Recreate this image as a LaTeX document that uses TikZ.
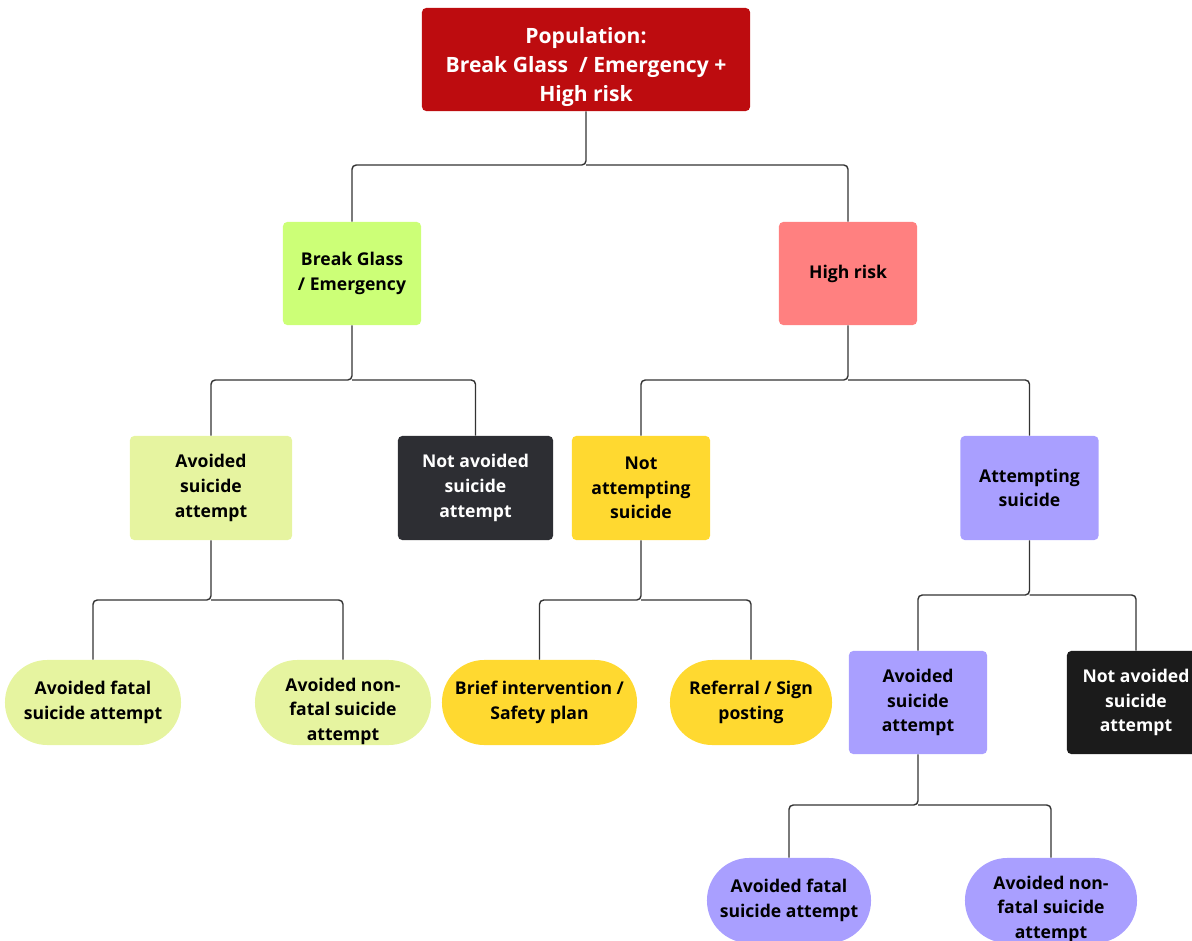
\documentclass[tikz,border=0pt]{standalone}
\usepackage{fontspec}
\setmainfont{Open Sans}
\definecolor{popred}{HTML}{BD0C0F}
\definecolor{glassgreen}{HTML}{CCFF77}
\definecolor{riskpink}{HTML}{FF8080}
\definecolor{palegreen}{HTML}{E6F4A0}
\definecolor{darkgrey}{HTML}{2D2E33}
\definecolor{sunyellow}{HTML}{FFD930}
\definecolor{lilac}{HTML}{A99FFF}
\definecolor{nearblack}{HTML}{1B1B1B}
\definecolor{linegrey}{HTML}{333333}

\begin{document}
\begin{tikzpicture}[x=0.025cm,y=-0.025cm,
		box/.style={rectangle,rounded corners=3pt,inner sep=0pt,align=center,
			minimum width=3.45cm,minimum height=2.575cm,
			font=\fontsize{12.5pt}{17.5pt}\selectfont\bfseries},
		pill/.style={rectangle,rounded corners=30pt,inner sep=0pt,align=center,
			minimum height=2.125cm,
			font=\fontsize{12.5pt}{17.5pt}\selectfont\bfseries},
		link/.style={draw=linegrey,line width=1pt,rounded corners=3pt}]
		\useasboundingbox (0,0) rectangle (1192,941);

		\draw (586,59.5) node [box,fill=popred,text=white,minimum width=8.2cm,
			font=\fontsize{15pt}{20.5pt}\selectfont\bfseries] (pop)
			{\rule{0pt}{22pt}Population:\\Break Glass~~/ Emergency +\\High risk};

		\draw (352,273.5) node [box,fill=glassgreen] (glass) {Break Glass\\/ Emergency};
		\draw (848,273.5) node [box,fill=riskpink] (risk) {High risk};

		\draw (211,488) node [box,fill=palegreen,minimum width=4.05cm,minimum height=2.6cm] (avoidA) {Avoided\\suicide\\attempt};
		\draw (475.5,488) node [box,fill=darkgrey,text=white,minimum width=3.875cm,minimum height=2.6cm] (notavoidA) {Not avoided\\suicide\\attempt};
		\draw (641,488) node [box,fill=sunyellow,minimum height=2.6cm] (notattempt) {Not\\attempting\\suicide};
		\draw (1029.5,488) node [box,fill=lilac,minimum height=2.6cm] (attempt) {Attempting\\suicide};

		\draw (93,702.5) node [pill,fill=palegreen,minimum width=4.4cm] (fatalA) {Avoided fatal\\suicide attempt};
		\draw (343,702.5) node [pill,fill=palegreen,minimum width=4.4cm] (nonfatalA) {\rule{0pt}{22pt}Avoided non-\\fatal suicide\\attempt};
		\draw (539.5,702.5) node [pill,fill=sunyellow,minimum width=4.875cm] (brief) {Brief intervention /\\Safety plan};
		\draw (751,702.5) node [pill,fill=sunyellow,minimum width=4.05cm] (referral) {Referral / Sign\\posting};
		\draw (918,702.5) node [box,fill=lilac] (avoidB) {Avoided\\suicide\\attempt};
		\draw (1136,702.5) node [box,fill=nearblack,text=white] (notavoidB) {Not avoided\\suicide\\attempt};

		\draw (789,900.5) node [pill,fill=lilac,minimum width=4.1cm] (fatalB) {Avoided fatal\\suicide attempt};
		\draw (1051,900.5) node [pill,fill=lilac,minimum width=4.3cm] (nonfatalB) {\rule{0pt}{22pt}Avoided non-\\fatal suicide\\attempt};

		\coordinate (j1) at (586,165);
		\coordinate (j2) at (352,380);
		\coordinate (j3) at (848,380);
		\coordinate (j4) at (211,600);
		\coordinate (j5) at (641,600);
		\coordinate (j6) at (1029.5,595);
		\coordinate (j7) at (918,805);

		\draw[link] (pop) -- (j1) -| (glass);
		\draw[link] (j1) -| (risk);
		\draw[link] (glass) -- (j2) -| (avoidA);
		\draw[link] (j2) -| (notavoidA);
		\draw[link] (risk) -- (j3) -| (notattempt);
		\draw[link] (j3) -| (attempt);
		\draw[link] (avoidA) -- (j4) -| (fatalA);
		\draw[link] (j4) -| (nonfatalA);
		\draw[link] (notattempt) -- (j5) -| (brief);
		\draw[link] (j5) -| (referral);
		\draw[link] (attempt) -- (j6) -| (avoidB);
		\draw[link] (j6) -| (notavoidB);
		\draw[link] (avoidB) -- (j7) -| (fatalB);
		\draw[link] (j7) -| (nonfatalB);
	\end{tikzpicture}
\end{document}
